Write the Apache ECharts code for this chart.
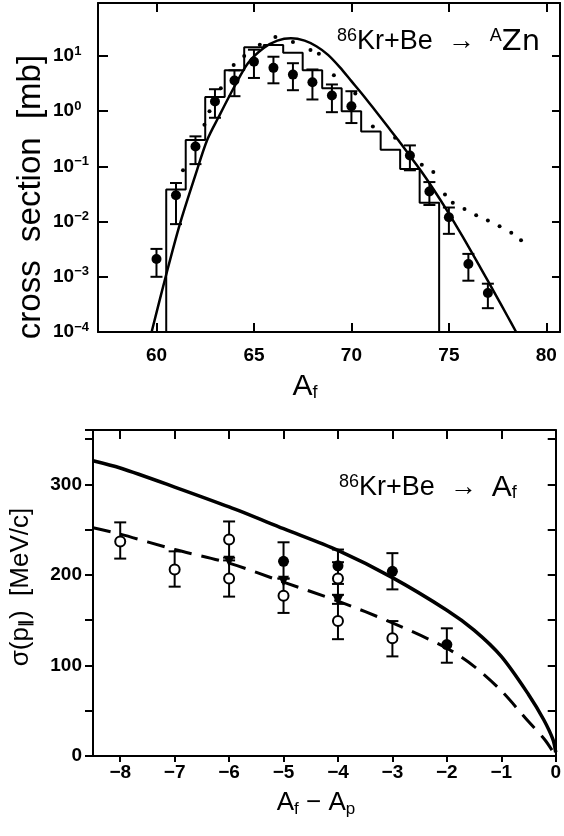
<!DOCTYPE html>
<html>
<head>
<meta charset="utf-8">
<script src="https://cdn.jsdelivr.net/npm/echarts@6/dist/echarts.min.js"></script>
<style>
  html, body { margin: 0; padding: 0; background: #fff; }
  #chart { width: 564px; height: 836px; }
</style>
</head>
<body>
<div id="chart"></div>
<script>
// ---- upper panel: 86Kr+Be -> AZn cross sections (mb) ----
const histA = [60, 61, 62, 63, 64, 65, 66, 67, 68, 69, 70, 71, 72, 73, 74, 75];
const histSigma = [1e-4, 0.038, 0.3, 1.8, 5.5, 14.4, 15.8, 11.5, 5.5, 2.6, 1.0, 0.43, 0.2, 0.09, 0.022, 1e-4];

const curveA = [59.75, 60.5, 61.2, 62.0, 62.6, 63.2, 64.0, 64.7, 65.5, 66.2, 66.9, 67.6, 68.2, 68.8, 69.4, 70.0, 70.6, 71.2, 71.8, 72.4, 73.0, 73.6, 74.2, 74.9, 75.7, 76.6, 77.4, 78.0, 78.45];
const curveSigma = [1e-4, 0.0011, 0.009, 0.07, 0.3, 0.8, 2.8, 7.5, 14, 19, 21, 19, 15, 10.5, 6.3, 3.5, 1.95, 1.05, 0.56, 0.3, 0.155, 0.08, 0.039, 0.016, 0.0054, 0.0015, 0.00047, 0.000195, 1e-4];

const dotsA = [61.36, 62.46, 62.72, 63.3, 63.96, 64.5, 65.3, 66.1, 67.0, 67.9, 68.33, 69.1, 70.2, 71.1, 72.24, 73.61, 74.2, 74.8, 75.2, 75.8, 76.4, 77.0, 77.6, 78.2, 78.7];
const dotsSigma = [0.085, 0.57, 1.0, 2.6, 6.9, 10, 16, 22, 18, 12.8, 11, 4.5, 2.1, 0.53, 0.33, 0.107, 0.079, 0.031, 0.022, 0.017, 0.013, 0.0105, 0.0082, 0.0063, 0.0046];

const expA = [60, 61, 62, 63, 64, 65, 66, 67, 68, 69, 70, 73, 74, 75, 76, 77];
const expSigma = [0.0021, 0.03, 0.23, 1.5, 3.6, 7.9, 6.1, 4.6, 3.35, 1.92, 1.23, 0.158, 0.035, 0.012, 0.0017, 0.00051];
const expLow = [0.001, 0.009, 0.11, 0.76, 1.87, 4.0, 3.2, 2.4, 1.63, 0.96, 0.61, 0.085, 0.02, 0.006, 0.00085, 0.00027];
const expHigh = [0.0032, 0.05, 0.35, 2.5, 5.5, 13, 9.7, 7.4, 5.7, 3.05, 2.3, 0.24, 0.052, 0.018, 0.0026, 0.00075];
const topTicks = [60, 65, 70, 75, 80];

// ---- lower panel: momentum width (MeV/c) vs Af - Ap ----
const solidDA = [-8.5, -8, -7, -6, -5, -4, -3, -2, -1.5, -1, -0.5, -0.22, -0.05, 0];
const solidWidth = [326, 318, 297, 275, 251, 227, 197, 161, 139, 110, 68, 40, 18, 4];
const dashDA = [-8.5, -8, -7, -6, -5, -4, -3, -2, -1.5, -1, -0.5, -0.2, 0];
const dashWidth = [252, 245, 228, 213, 192, 171, 147, 119, 99, 72, 38, 18, 0];

const filledDA = [-5, -4, -3, -2];
const filledWidth = [215, 210, 204, 123];
const filledLow = [196, 190, 184, 103];
const filledHigh = [236, 228, 224, 141];

const openDA = [-8, -7, -6, -6, -5, -4, -4, -3];
const openWidth = [237, 206, 239, 196, 177, 196, 149, 130];
const openLow = [218, 187, 219, 176, 158, 178, 129, 110];
const openHigh = [258, 226, 259, 216, 196, 214, 168, 149];

const triDA = [-6, -5, -4];
const triWidth = [215, 193, 172];
const bottomTicks = [-8, -7, -6, -5, -4, -3, -2, -1, 0];

const FONT = "Liberation Sans";
const black = "#000";

const errorBars = (capHalf) => (params, api) => {
  const x = api.value(0);
  const lo = api.coord([x, api.value(1)]);
  const hi = api.coord([x, api.value(2)]);
  const style = { stroke: black, lineWidth: 2 };
  return {
    type: "group",
    children: [
      { type: "line", shape: { x1: lo[0], y1: lo[1], x2: hi[0], y2: hi[1] }, style },
      { type: "line", shape: { x1: lo[0] - capHalf, y1: lo[1], x2: lo[0] + capHalf, y2: lo[1] }, style },
      { type: "line", shape: { x1: hi[0] - capHalf, y1: hi[1], x2: hi[0] + capHalf, y2: hi[1] }, style },
    ],
  };
};

const zip = (...cols) => cols[0].map((_, i) => cols.map((c) => c[i]));

const axisLine = { show: true, onZero: false, lineStyle: { color: black, width: 2 } };
const tickLabel = { color: black, fontFamily: FONT, fontSize: 19, fontWeight: "bold" };
const tickStyle = { color: black, width: 2 };

const logLabel = (v) => {
  const e = Math.log10(v);
  const r = Math.round(e);
  if (Math.abs(e - r) > 1e-6) return "";
  return "10{sup|" + (r < 0 ? "\u2212" + -r : r) + "}";
};

const chart = echarts.init(document.getElementById("chart"));
chart.setOption({
  animation: false,
  backgroundColor: "#fff",
  grid: [
    { left: 98, top: 3, width: 462, height: 329 },
    { left: 93, top: 430, width: 467, height: 326 },
  ],
  title: [
    {
      text: "{sup|86}Kr+Be  \u2192  {sup|A}{zn|Zn}",
      left: 332, top: 22,
      textStyle: {
        color: black, fontFamily: FONT, fontSize: 27, fontWeight: "normal",
        rich: {
          sup: { fontFamily: FONT, fontSize: 18, padding: [0, 0, 12, 0] },
          zn: { fontFamily: "DejaVu Sans", fontSize: 29 },
        },
      },
    },
    {
      text: "{sup|86}Kr+Be  \u2192  {big|A}{sub|f}",
      left: 334, top: 468,
      textStyle: {
        color: black, fontFamily: FONT, fontSize: 27, fontWeight: "normal",
        rich: {
          sup: { fontFamily: FONT, fontSize: 18, padding: [0, 0, 12, 0] },
          big: { fontFamily: FONT, fontSize: 30 },
          sub: { fontFamily: FONT, fontSize: 18, padding: [10, 0, 0, 0] },
        },
      },
    },
  ],
  graphic: [
    {
      type: "text", x: 31, y: 197, rotation: Math.PI / 2,
      style: { text: "cross  section  [mb]", font: "33px " + FONT, fill: black, align: "center", verticalAlign: "middle" },
    },
    {
      type: "text", x: 305, y: 387,
      style: {
        text: "A{sub|f}", font: "30px " + FONT, fill: black, align: "center", verticalAlign: "middle",
        rich: { sub: { fontSize: 18, fontFamily: FONT, padding: [12, 0, 0, 0] } },
      },
    },
    {
      type: "text", x: 21, y: 587, rotation: Math.PI / 2,
      style: {
        text: "\u03c3(p{sub|\u2225})  [MeV/c]", font: "26px " + FONT, fill: black, align: "center", verticalAlign: "middle",
        rich: { sub: { fontSize: 15, fontFamily: FONT, fontWeight: "bold", padding: [10, 0, 0, 0] } },
      },
    },
    {
      type: "text", x: 316, y: 803,
      style: {
        text: "A{sub|f} \u2212 A{sub|p}", font: "26px " + FONT, fill: black, align: "center", verticalAlign: "middle",
        rich: { sub: { fontSize: 17, fontFamily: FONT, padding: [12, 0, 0, 0] } },
      },
    },
  ],
  xAxis: [
    {
      gridIndex: 0, type: "value", min: 57, max: 80.7, position: "bottom",
      axisLine, splitLine: { show: false },
      axisTick: { inside: true, length: 9, lineStyle: tickStyle, customValues: topTicks },
      axisLabel: { ...tickLabel, margin: 14, customValues: topTicks },
    },
    {
      gridIndex: 0, type: "value", min: 57, max: 80.7, position: "top",
      axisLine, splitLine: { show: false },
      axisTick: { inside: true, length: 9, lineStyle: tickStyle, customValues: topTicks },
      axisLabel: { show: false },
    },
    {
      gridIndex: 1, type: "value", min: -8.5, max: 0, position: "bottom",
      axisLine, splitLine: { show: false },
      axisTick: { inside: false, length: 6, lineStyle: tickStyle, customValues: bottomTicks },
      axisLabel: {
        ...tickLabel, margin: 7, customValues: bottomTicks,
        formatter: (v) => String(v).replace("-", "\u2212"),
      },
    },
    {
      gridIndex: 1, type: "value", min: -8.5, max: 0, position: "top",
      axisLine, splitLine: { show: false },
      axisTick: { inside: true, length: 9, lineStyle: tickStyle, customValues: bottomTicks.slice(0, 8) },
      axisLabel: { show: false },
    },
  ],
  yAxis: [
    {
      gridIndex: 0, type: "log", logBase: 10, min: 1e-4, max: 91.2, position: "left",
      axisLine, splitLine: { show: false },
      axisTick: { inside: true, length: 10, lineStyle: tickStyle },
      axisLabel: {
        ...tickLabel, align: "left", margin: 45, formatter: logLabel,
        rich: { sup: { fontFamily: FONT, fontSize: 13, fontWeight: "bold", padding: [0, 0, 10, 0] } },
      },
    },
    {
      gridIndex: 0, type: "log", logBase: 10, min: 1e-4, max: 91.2, position: "right",
      axisLine, splitLine: { show: false },
      axisTick: { inside: true, length: 8, lineStyle: tickStyle },
      axisLabel: { show: false },
    },
    {
      gridIndex: 1, type: "value", min: 0, max: 360, interval: 50, position: "left",
      axisLine, splitLine: { show: false },
      axisTick: { inside: false, length: 8, lineStyle: tickStyle },
      axisLabel: { ...tickLabel, margin: 11, formatter: (v) => (v % 100 === 0 ? String(v) : "") },
    },
    {
      gridIndex: 1, type: "value", min: 0, max: 360, interval: 50, position: "right",
      axisLine, splitLine: { show: false },
      axisTick: { inside: true, length: 8, lineStyle: tickStyle },
      axisLabel: { show: false },
    },
  ],
  series: [
    // upper panel
    {
      type: "line", xAxisIndex: 0, yAxisIndex: 0, step: "middle", symbol: "none",
      lineStyle: { color: black, width: 2 },
      data: zip(histA, histSigma),
    },
    {
      type: "line", xAxisIndex: 0, yAxisIndex: 0, smooth: 0.3, symbol: "none",
      lineStyle: { color: black, width: 2.5 },
      data: zip(curveA, curveSigma),
    },
    {
      type: "scatter", xAxisIndex: 0, yAxisIndex: 0, symbolSize: 4,
      itemStyle: { color: black, opacity: 1 },
      data: zip(dotsA, dotsSigma),
    },
    {
      type: "custom", xAxisIndex: 0, yAxisIndex: 0, renderItem: errorBars(6),
      encode: { x: 0, y: [1, 2] },
      data: zip(expA, expLow, expHigh),
    },
    {
      type: "scatter", xAxisIndex: 0, yAxisIndex: 0, symbolSize: 10,
      itemStyle: { color: black, opacity: 1 },
      data: zip(expA, expSigma),
    },
    // lower panel
    {
      type: "custom", xAxisIndex: 2, yAxisIndex: 2, renderItem: errorBars(6),
      encode: { x: 0, y: [1, 2] },
      data: zip(openDA, openLow, openHigh).concat(zip(filledDA, filledLow, filledHigh)),
    },
    {
      type: "line", xAxisIndex: 2, yAxisIndex: 2, smooth: 0.3, symbol: "none",
      lineStyle: { color: black, width: 3.5 },
      data: zip(solidDA, solidWidth),
    },
    {
      type: "line", xAxisIndex: 2, yAxisIndex: 2, smooth: 0.3, symbol: "none",
      lineStyle: { color: black, width: 3, type: [18, 10] },
      data: zip(dashDA, dashWidth),
    },
    {
      type: "scatter", xAxisIndex: 2, yAxisIndex: 2, symbol: "triangle", symbolRotate: 180, symbolSize: 11,
      itemStyle: { color: black, opacity: 1 },
      data: zip(triDA, triWidth),
    },
    {
      type: "scatter", xAxisIndex: 2, yAxisIndex: 2, symbolSize: 11,
      itemStyle: { color: black, opacity: 1 },
      data: zip(filledDA, filledWidth),
    },
    {
      type: "scatter", xAxisIndex: 2, yAxisIndex: 2, symbolSize: 10,
      itemStyle: { color: "#fff", borderColor: black, borderWidth: 2, opacity: 1 },
      data: zip(openDA, openWidth),
    },
  ],
});
window.addEventListener("resize", () => chart.resize());
</script>
</body>
</html>
